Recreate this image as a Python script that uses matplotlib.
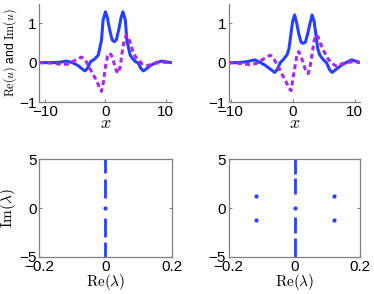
import numpy as np
import matplotlib
matplotlib.use("Agg")
import matplotlib.pyplot as plt

plt.rcParams['font.family'] = ['Liberation Sans', 'DejaVu Sans']
plt.rcParams['mathtext.fontset'] = 'cm'

blue = '#2640ff'
purple = '#a628f0'
grey = '#808080'

# left profile: Re(u), Im(u)
x_re1 = [-11, -9, -7.5, -6.5, -5.5, -4.6, -3.8, -3.4, -3.0, -2.5, -1.8, -1.2, -0.66, -0.4,
         0.0, 0.3, 0.7, 1.1, 1.45, 1.8, 2.2, 2.6, 2.9, 3.3, 3.55, 4.1, 4.6, 5.0, 5.4, 5.9,
         6.3, 6.7, 7.5, 8.4, 9.4, 10.4, 11]
re1 = [0.0, 0.0, 0.01, 0.04, 0.0, -0.07, -0.17, -0.21, -0.15, 0.02, 0.09, 0.19, 0.57, 1.08,
       1.29, 1.15, 0.83, 0.58, 0.53, 0.58, 0.83, 1.15, 1.29, 1.08, 0.57, 0.19, 0.09, 0.02, 0.0, -0.15,
       -0.21, -0.17, -0.07, 0.0, 0.04, 0.01, 0.0]
x_im1 = [-11, -9, -7.5, -6.3, -5.0, -4.0, -3.4, -2.6, -2.1, -1.5, -1.0, -0.66, -0.35, 0.0,
         0.35, 0.7, 1.0, 1.4, 1.8, 2.1, 2.45, 2.75, 3.1, 3.45, 3.9, 4.57, 5.1, 5.7, 6.2,
         6.8, 7.5, 8.5, 9.5, 11]
im1 = [0.0, -0.01, -0.04, -0.04, 0.06, 0.14, 0.08, -0.14, -0.3, -0.44, -0.64, -0.73, -0.5, -0.1,
       0.17, 0.24, 0.18, 0.0, -0.2, -0.27, -0.1, 0.24, 0.55, 0.7, 0.6, 0.28, 0.12, 0.03, -0.04,
       -0.07, -0.06, -0.01, 0.01, 0.0]

# right profile
x_re2 = [-10.3, -9, -7.5, -6.1, -5.2, -4.4, -3.3, -2.9, -2.5, -2.0, -1.5, -0.9, -0.6, -0.3,
         0.0, 0.32, 0.65, 1.0, 1.35, 1.7, 2.05, 2.4, 2.8, 3.13, 3.45, 3.75, 4.05, 4.35, 4.9,
         5.45, 5.95, 6.35, 6.75, 7.8, 8.6, 9.5, 10.9]
re2 = [0.0, 0.0, 0.02, 0.07, 0.0, -0.07, -0.2, -0.25, -0.18, 0.0, 0.08, 0.2, 0.35, 0.7,
       1.05, 1.21, 1.0, 0.72, 0.52, 0.49, 0.52, 0.72, 1.0, 1.21, 1.05, 0.7, 0.35, 0.2, 0.08,
       0.0, -0.18, -0.25, -0.2, -0.07, 0.0, 0.07, 0.0]
x_im2 = [-10.3, -8.5, -7.0, -5.8, -4.6, -3.6, -3.0, -2.3, -1.7, -1.2, -0.6, -0.25, 0.05, 0.4,
         0.7, 0.97, 1.3, 1.67, 2.1, 2.5, 2.8, 3.13, 3.45, 3.75, 4.1, 4.5, 5.0, 5.6, 6.2,
         6.9, 7.6, 8.6, 9.6, 10.9]
im2 = [0.0, -0.02, -0.05, -0.02, 0.1, 0.19, 0.08, -0.1, -0.3, -0.44, -0.65, -0.71, -0.4, -0.07,
       0.2, 0.28, 0.18, 0.0, -0.2, -0.28, -0.1, 0.22, 0.55, 0.7, 0.65, 0.48, 0.3, 0.12, 0.0,
       -0.08, -0.05, 0.0, 0.02, 0.0]

# spectra: continuous bands on the imaginary axis (lo, hi) and discrete eigenvalues
bands1 = [(3.56, 5.5), (1.08, 2.94), (-2.94, -0.98), (-5.5, -3.45)]
eig1_re = [0.0]
eig1_im = [0.0]
bands2 = [(3.5, 5.5), (1.46, 3.1), (-2.56, -0.9), (-5.5, -3.04)]
eig2_re = [0.0, -0.118, -0.118, 0.12, 0.12]
eig2_im = [0.0, 1.23, -1.23, 1.23, -1.23]

fig = plt.figure(figsize=(3.74, 2.94), dpi=100)

ax_pos = [[0.105, 0.653, 0.354, 0.335], [0.6115, 0.653, 0.352, 0.335],
          [0.105, 0.126, 0.354, 0.332], [0.6115, 0.126, 0.352, 0.332]]
axs = [fig.add_axes(p) for p in ax_pos]


def style(ax, box):
    for s in ax.spines.values():
        s.set_color(grey)
        s.set_linewidth(0.9)
    if not box:
        ax.spines['top'].set_visible(False)
        ax.spines['right'].set_visible(False)
    ax.tick_params(direction='in', length=2.5, width=0.8, color=grey,
                   labelsize=11, pad=2, top=box, right=box)


profiles = [(x_re1, re1, x_im1, im1, (-11, 11)), (x_re2, re2, x_im2, im2, (-10.3, 10.9))]
for ax, (xr, r, xi, i, xl) in zip(axs[:2], profiles):
    ax.plot(xr, r, color=blue, lw=2.2)
    ax.plot(xi, i, color=purple, lw=2.2, ls=(0, (1.6, 1.1)))
    ax.set_xlim(xl)
    ax.set_ylim(-1, 1.5)
    ax.set_xticks([-10, 0, 10])
    ax.set_yticks([-1, 0, 1])
    ax.set_xticklabels(['\u221210', '0', '10'])
    ax.set_yticklabels(['\u22121', '0', '1'])
    style(ax, False)
    ax.set_xlabel(r'$x$', fontsize=13, labelpad=-3)
axs[0].set_ylabel(r'$\mathrm{Re}(u)$ and $\mathrm{Im}(u)$', fontsize=8.7, labelpad=0)

spectra = [(bands1, eig1_re, eig1_im), (bands2, eig2_re, eig2_im)]
for ax, (bands, er, ei) in zip(axs[2:], spectra):
    for lo, hi in bands:
        ax.plot([0, 0], [lo, hi], color=blue, lw=2.0, solid_capstyle='butt')
    ax.plot(er, ei, '.', color=blue, ms=4)
    ax.set_xlim(-0.2, 0.2)
    ax.set_ylim(-5, 5)
    ax.set_xticks([-0.2, 0, 0.2])
    ax.set_yticks([-5, 0, 5])
    ax.set_xticklabels(['\u22120.2', '0', '0.2'])
    ax.set_yticklabels(['\u22125', '0', '5'])
    style(ax, True)
    ax.set_xlabel(r'$\mathrm{Re}(\lambda)$', fontsize=11, labelpad=-1)
axs[2].set_ylabel(r'$\mathrm{Im}(\lambda)$', fontsize=11, labelpad=0.5)

fig.savefig('out.png', dpi=100)
